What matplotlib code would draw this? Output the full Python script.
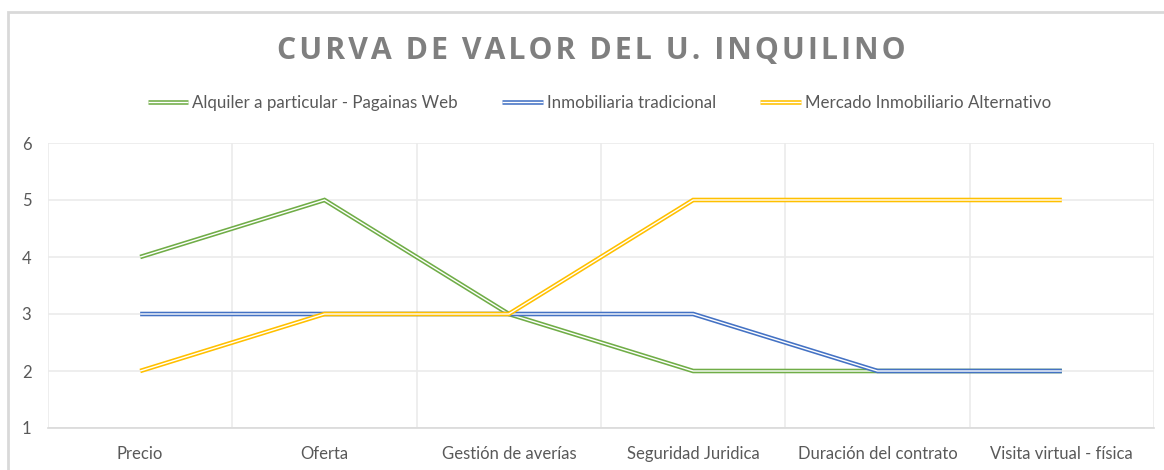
import matplotlib
matplotlib.use('Agg')
import matplotlib.pyplot as plt
import matplotlib.patheffects as pe
from matplotlib.patches import Rectangle

categories = ['Precio', 'Oferta', 'Gestión de averías', 'Seguridad Juridica',
              'Duración del contrato', 'Visita virtual - física']
alquiler = [4, 5, 3, 2, 2, 2]
inmobiliaria = [3, 3, 3, 3, 2, 2]
alternativo = [2, 3, 3, 5, 5, 5]
title = 'CURVA DE VALOR DEL U. INQUILINO'

series = [
    ('Alquiler a particular - Pagainas Web', alquiler, '#70AD47'),
    ('Inmobiliaria tradicional', inmobiliaria, '#4472C4'),
    ('Mercado Inmobiliario Alternativo', alternativo, '#FFC000'),
]

plt.rcParams['font.family'] = ['Lato', 'DejaVu Sans']

fig = plt.figure(figsize=(11.64, 4.70), dpi=100)
ax = fig.add_axes([48 / 1164, 1 - 428 / 470, (1154 - 48) / 1164, (428 - 143) / 470])

# chart frame (cropped on the right and bottom)
fig.patches.append(Rectangle((8 / 1164, -0.1), 1.2, 1 - 12 / 470 + 0.1,
                             transform=fig.transFigure, fill=False,
                             edgecolor='#D9D9D9', linewidth=2))

x = list(range(len(categories)))
for name, vals, col in series:
    # double line: wide coloured stroke with a thin white core
    ax.plot(x, vals, color='white', linewidth=1.0, label=name,
            solid_joinstyle='miter', solid_capstyle='butt',
            path_effects=[pe.Stroke(linewidth=3.3, foreground=col), pe.Normal()])

ax.set_xlim(-0.5, len(categories) - 0.5)
ax.set_ylim(1, 6)
ax.set_yticks([1, 2, 3, 4, 5, 6])
ax.set_xticks(x)
ax.set_xticklabels(categories)
ax.set_xticks([i - 0.5 for i in range(len(categories) + 1)], minor=True)
ax.grid(True, axis='y', which='major', color='#EBEBEB', linewidth=1.2)
ax.grid(True, axis='x', which='minor', color='#EBEBEB', linewidth=1.2)
ax.set_axisbelow(True)
for s in ['top', 'right', 'left']:
    ax.spines[s].set_visible(False)
ax.spines['bottom'].set_color('#D9D9D9')
ax.spines['bottom'].set_linewidth(1.2)
ax.tick_params(axis='both', which='both', length=0, colors='#595959', labelsize=12)
ax.tick_params(axis='x', which='major', pad=13)
ax.tick_params(axis='y', pad=12)

# spaced-out title, as in the original
fig.text(0.508, 1 - 51 / 470, '\u200a'.join(title), ha='center', va='center',
         fontsize=21.8, fontweight='bold', color='#7F7F7F',
         family=['Open Sans', 'DejaVu Sans'])

fig.legend(loc='center', bbox_to_anchor=(0.515, 1 - 103 / 470), ncol=3, frameon=False,
           fontsize=12.2, labelcolor='#595959', handlelength=2.4, handletextpad=0.25,
           columnspacing=2.6)

fig.savefig('out.png', dpi=100)
